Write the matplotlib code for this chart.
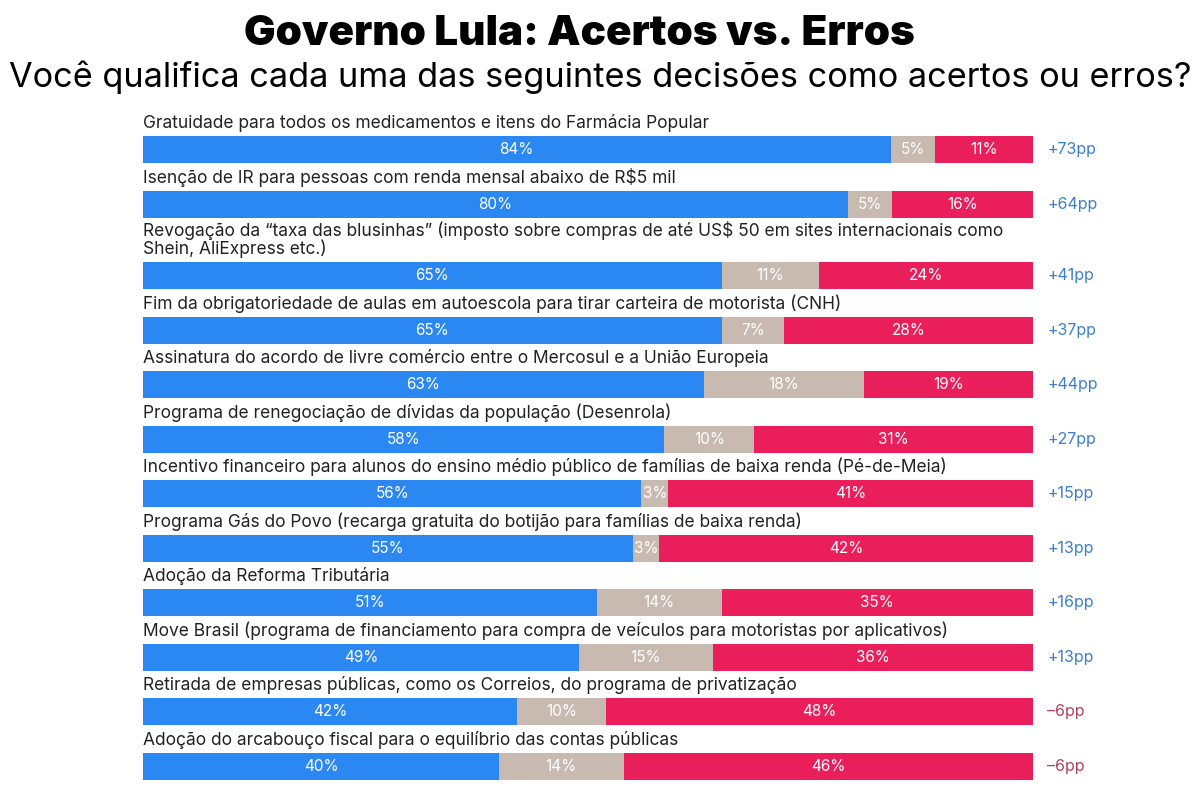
import matplotlib.pyplot as plt
import numpy as np

plt.rcParams["font.family"] = ["Inter", "DejaVu Sans"]

items = [
    "Gratuidade para todos os medicamentos e itens do Farmácia Popular",
    "Isenção de IR para pessoas com renda mensal abaixo de R$5 mil",
    "Revogação da “taxa das blusinhas” (imposto sobre compras de até US$ 50 em sites internacionais como\nShein, AliExpress etc.)",
    "Fim da obrigatoriedade de aulas em autoescola para tirar carteira de motorista (CNH)",
    "Assinatura do acordo de livre comércio entre o Mercosul e a União Europeia",
    "Programa de renegociação de dívidas da população (Desenrola)",
    "Incentivo financeiro para alunos do ensino médio público de famílias de baixa renda (Pé-de-Meia)",
    "Programa Gás do Povo (recarga gratuita do botijão para famílias de baixa renda)",
    "Adoção da Reforma Tributária",
    "Move Brasil (programa de financiamento para compra de veículos para motoristas por aplicativos)",
    "Retirada de empresas públicas, como os Correios, do programa de privatização",
    "Adoção do arcabouço fiscal para o equilíbrio das contas públicas",
]
acertos = [84, 80, 65, 65, 63, 58, 56, 55, 51, 49, 42, 40]
nao_sabe = [5, 5, 11, 7, 18, 10, 3, 3, 14, 15, 10, 14]
erros = [11, 16, 24, 28, 19, 31, 41, 42, 35, 36, 48, 46]
saldo = [73, 64, 41, 37, 44, 27, 15, 13, 16, 13, -6, -6]

BLUE = "#2b87f2"
GRAY = "#c8b9b1"
RED = "#e91e5a"

fig = plt.figure(figsize=(12, 8), dpi=100)
fig.patch.set_facecolor("white")

# axes spans pixel rows 110..790, y units are pixels from top of figure
top_px, bot_px = 110, 790
ax = fig.add_axes([143 / 1200, 1 - bot_px / 800, 890 / 1200, (bot_px - top_px) / 800])
ax.set_xlim(0, 100)
ax.set_ylim(bot_px, top_px)
ax.axis("off")

# bar centre rows (pixels); row 3 has a two-line label
centres = []
y = 150
for i in range(len(items)):
    if i == 2:
        y += 17
    centres.append(y)
    y += 54.5
centres = np.array(centres)

# bars are stretched to fill 100% even when rounded shares don't sum to 100
a = np.array(acertos, dtype=float)
n = np.array(nao_sabe, dtype=float)
e = np.array(erros, dtype=float)
tot = a + n + e
wa, wn, we = a / tot * 100, n / tot * 100, e / tot * 100

h = 27
ax.barh(centres, wa, height=h, color=BLUE)
ax.barh(centres, wn, left=wa, height=h, color=GRAY)
ax.barh(centres, we, left=wa + wn, height=h, color=RED)

for i, yc in enumerate(centres):
    ax.text(0, yc - h / 2 - 4, items[i], ha="left", va="bottom", fontsize=12.5,
            color="#222222", linespacing=1.0)
    ax.text(wa[i] / 2, yc, f"{acertos[i]}%", ha="center", va="center",
            color="white", fontsize=11)
    ax.text(wa[i] + wn[i] / 2, yc, f"{nao_sabe[i]}%", ha="center",
            va="center", color="white", fontsize=11)
    ax.text(wa[i] + wn[i] + we[i] / 2, yc, f"{erros[i]}%", ha="center",
            va="center", color="white", fontsize=11)
    s = saldo[i]
    lab = f"+{s}pp" if s > 0 else f"\u2013{abs(s)}pp"
    ax.text(101.6, yc, lab, ha="left", va="center", fontsize=11.5,
            color="#3d7fcc" if s > 0 else "#b3405c")

fig.text(0.4825, 0.957, "Governo Lula: Acertos vs. Erros", ha="center", va="center",
         fontsize=30.3, fontweight=900, color="black")
fig.text(0.5, 0.903, "Você qualifica cada uma das seguintes decisões como acertos ou erros?",
         ha="center", va="center", fontsize=24.7, color="black")

fig.savefig("out.png", dpi=100)
